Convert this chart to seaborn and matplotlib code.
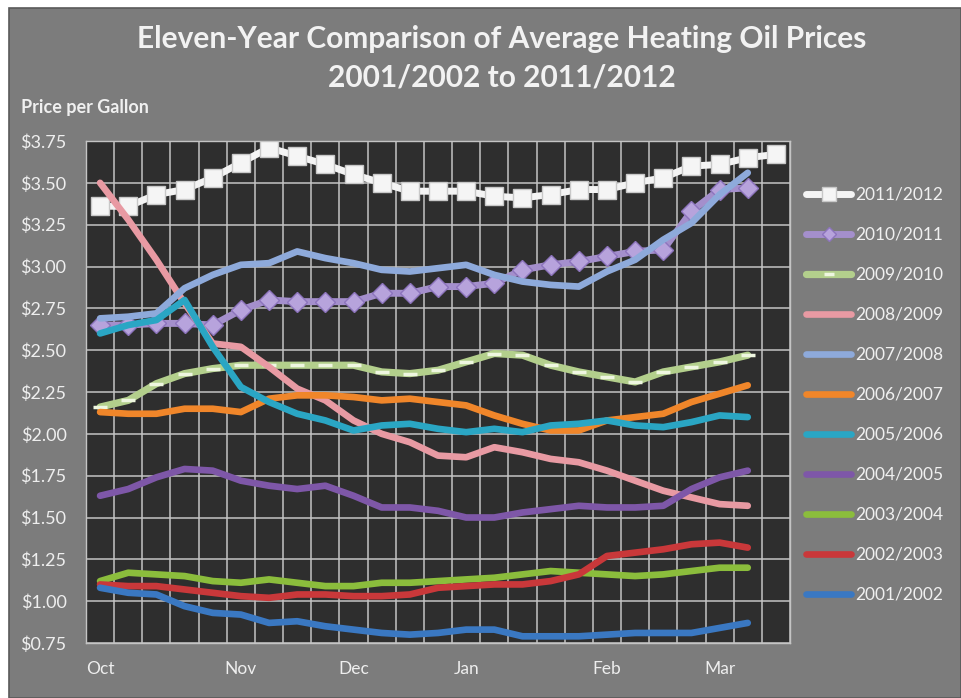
import matplotlib
matplotlib.use("Agg")
import matplotlib.pyplot as plt
from matplotlib.patches import Rectangle
import seaborn as sns
import pandas as pd

# ---------------- data ----------------
weeks = list(range(25))
month_ticks = [0, 5, 9, 13, 18, 22]
month_labels = ["Oct", "Nov", "Dec", "Jan", "Feb", "Mar"]
y_ticks = [0.75, 1.00, 1.25, 1.50, 1.75, 2.00, 2.25, 2.50, 2.75, 3.00, 3.25, 3.50, 3.75]

seasons = ["2011/2012", "2010/2011", "2009/2010", "2008/2009", "2007/2008",
           "2006/2007", "2005/2006", "2004/2005", "2003/2004", "2002/2003", "2001/2002"]

s2011 = [3.36, 3.36, 3.43, 3.46, 3.53, 3.62, 3.71, 3.66, 3.61, 3.55, 3.50, 3.45, 3.45,
         3.45, 3.42, 3.41, 3.43, 3.46, 3.46, 3.50, 3.53, 3.60, 3.61, 3.65, 3.67]
s2010 = [2.65, 2.65, 2.66, 2.66, 2.65, 2.74, 2.80, 2.79, 2.79, 2.79, 2.84, 2.84, 2.88,
         2.88, 2.90, 2.98, 3.01, 3.03, 3.06, 3.09, 3.10, 3.33, 3.46, 3.47]
s2009 = [2.16, 2.20, 2.30, 2.36, 2.39, 2.41, 2.41, 2.41, 2.41, 2.41, 2.37, 2.36, 2.38,
         2.43, 2.48, 2.47, 2.41, 2.37, 2.34, 2.31, 2.37, 2.40, 2.43, 2.47]
s2008 = [3.50, 3.28, 3.04, 2.78, 2.54, 2.52, 2.40, 2.27, 2.20, 2.08, 2.00, 1.95, 1.87,
         1.86, 1.92, 1.89, 1.85, 1.83, 1.78, 1.72, 1.66, 1.62, 1.58, 1.57]
s2007 = [2.69, 2.70, 2.72, 2.87, 2.95, 3.01, 3.02, 3.09, 3.05, 3.02, 2.98, 2.97, 2.99,
         3.01, 2.95, 2.91, 2.89, 2.88, 2.97, 3.04, 3.16, 3.26, 3.43, 3.56]
s2006 = [2.13, 2.12, 2.12, 2.15, 2.15, 2.13, 2.21, 2.23, 2.23, 2.22, 2.20, 2.21, 2.19,
         2.17, 2.11, 2.06, 2.02, 2.02, 2.08, 2.10, 2.12, 2.19, 2.24, 2.29]
s2005 = [2.60, 2.65, 2.68, 2.80, 2.52, 2.28, 2.19, 2.12, 2.08, 2.02, 2.05, 2.06, 2.03,
         2.01, 2.03, 2.01, 2.05, 2.06, 2.08, 2.05, 2.04, 2.07, 2.11, 2.10]
s2004 = [1.63, 1.67, 1.74, 1.79, 1.78, 1.72, 1.69, 1.67, 1.69, 1.63, 1.56, 1.56, 1.54,
         1.50, 1.50, 1.53, 1.55, 1.57, 1.56, 1.56, 1.57, 1.67, 1.74, 1.78]
s2003 = [1.12, 1.17, 1.16, 1.15, 1.12, 1.11, 1.13, 1.11, 1.09, 1.09, 1.11, 1.11, 1.12,
         1.13, 1.14, 1.16, 1.18, 1.17, 1.16, 1.15, 1.16, 1.18, 1.20, 1.20]
s2002 = [1.10, 1.09, 1.09, 1.07, 1.05, 1.03, 1.02, 1.04, 1.04, 1.03, 1.03, 1.04, 1.08,
         1.09, 1.10, 1.10, 1.12, 1.16, 1.27, 1.29, 1.31, 1.34, 1.35, 1.32]
s2001 = [1.08, 1.05, 1.04, 0.97, 0.93, 0.92, 0.87, 0.88, 0.85, 0.83, 0.81, 0.80, 0.81,
         0.83, 0.83, 0.79, 0.79, 0.79, 0.80, 0.81, 0.81, 0.81, 0.84, 0.87]

series = [s2011, s2010, s2009, s2008, s2007, s2006, s2005, s2004, s2003, s2002, s2001]

colors = ["#f4f4f4", "#a48fcc", "#b3cf8c", "#e89aa3", "#8eaadb", "#f0862a",
          "#2aa6c4", "#7e57a8", "#8bbd3c", "#c9383a", "#3a78c2"]

# ---------------- style ----------------
sns.set_theme(style="dark")
plt.rcParams["font.family"] = ["Lato", "DejaVu Sans"]

W, H = 961, 698
fig = plt.figure(figsize=(W / 100, H / 100), dpi=100)
fig.patch.set_facecolor("white")
fig.patches.append(Rectangle((9 / W, 0), 1 - 9 / W, 1 - 8 / H, transform=fig.transFigure,
                             facecolor="#7c7c7c", edgecolor="#5a5a5a", lw=1.2, zorder=-10))

ax = fig.add_axes([86 / W, 1 - 643 / H, (790 - 86) / W, (643 - 141) / H])
ax.set_facecolor("#2e2e2e")

for i, (name, vals, col) in enumerate(zip(seasons, series, colors)):
    kw = dict(color=col, lw=4.8, solid_capstyle="round", zorder=2 + i)
    if name == "2011/2012":
        kw.update(marker="s", markersize=13, markerfacecolor="#f5f5f5",
                  markeredgecolor="#c8c8c8", markeredgewidth=1, lw=5)
    elif name == "2010/2011":
        kw.update(marker="D", markersize=10, markerfacecolor="#b7a3dc",
                  markeredgecolor="#8d74bd", markeredgewidth=1, lw=5)
    elif name == "2009/2010":
        kw.update(marker="_", markersize=10, markeredgecolor="#eef6e0",
                  markeredgewidth=2.5, lw=5.2)
    sns.lineplot(x=weeks[:len(vals)], y=vals, ax=ax, label=name, **kw)

ax.set_xlim(-0.5, 24.5)
ax.set_ylim(0.75, 3.75)
ax.set_xticks(month_ticks)
ax.set_xticklabels(month_labels)
ax.set_xticks([w - 0.5 for w in weeks] + [24.5], minor=True)
ax.set_yticks(y_ticks)
ax.set_yticklabels(["$%.2f" % v for v in y_ticks])

gc = "#c4c4c4"
ax.grid(False)
ax.grid(which="minor", axis="x", color=gc, lw=1.1, zorder=1)
ax.grid(which="major", axis="y", color=gc, lw=1.1, zorder=1)
ax.set_axisbelow(True)
ax.tick_params(axis="x", which="major", length=0, pad=13, labelsize=12.5, labelcolor="#eeeeee")
ax.tick_params(axis="x", which="minor", length=4, color=gc, width=1, direction="out")
ax.tick_params(axis="y", which="major", length=0, pad=14, labelsize=13, labelcolor="#eeeeee")
for sp in ax.spines.values():
    sp.set_color(gc)
    sp.set_linewidth(1)
ax.set_xlabel("")
ax.set_ylabel("")

handles, labels = ax.get_legend_handles_labels()
leg = ax.legend(handles, labels, loc="upper left", bbox_to_anchor=(806 / W, 1 - 187 / H),
                bbox_transform=fig.transFigure, frameon=False, fontsize=12.5,
                labelspacing=1.38, handlelength=2.6, handletextpad=0.25, borderpad=0,
                borderaxespad=0, markerscale=0.75)
for t in leg.get_texts():
    t.set_color("#f0f0f0")

fig.text(502 / W, 1 - 39 / H, "Eleven-Year Comparison of Average Heating Oil Prices",
         ha="center", va="center", fontsize=21.5, weight="bold", color="#f2f2f2")
fig.text(502 / W, 1 - 77 / H, "2001/2002 to 2011/2012",
         ha="center", va="center", fontsize=21.5, weight="bold", color="#f2f2f2")
fig.text(21 / W, 1 - 108 / H, "Price per Gallon", ha="left", va="center",
         fontsize=13, weight="bold", color="#f0f0f0")

fig.savefig("out.png", dpi=100, facecolor=fig.get_facecolor())
